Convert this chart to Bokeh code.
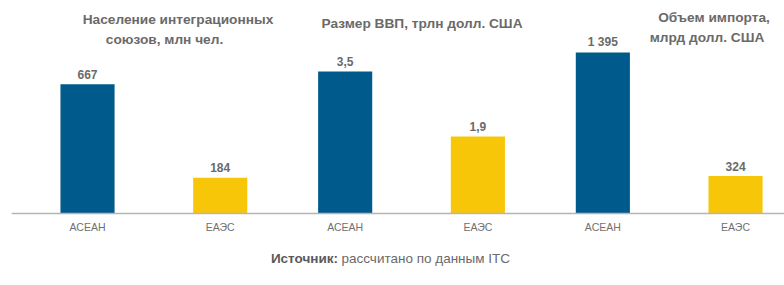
from bokeh.plotting import figure
from bokeh.models import ColumnDataSource, FactorRange, Range1d, Span
from bokeh.transform import dodge
from bokeh.core.properties import value
from bokeh.embed import file_html
from bokeh.resources import INLINE

# ---------------- data ----------------
panel_keys = ["Население", "ВВП", "Импорт"]
panel_titles = [
    ["Население интеграционных", "союзов, млн чел."],
    ["Размер ВВП, трлн долл. США"],
    ["Объем импорта,", "млрд долл. США"],
]
categories = ["АСЕАН", "ЕАЭС"]
asean_values = [667, 3.5, 1395]
eaeu_values = [184, 1.9, 324]
value_decimals = [0, 1, 0]
source_bold = "Источник:"
source_text = "рассчитано по данным ITC"

# ---------------- styling / layout ----------------
W, H = 784, 285
LEFT = 11
BASE_FROM_TOP = 213
FRAC_BELOW = (H - BASE_FROM_TOP) / BASE_FROM_TOP
range_tops = [1100, 5.25, 1845]
cat_dodge = [-0.205, 0.31]
bar_w = 0.21
colors = ["#005A8C", "#F8C608"]
FONT = value("Liberation Sans")
title_pos = [[(177.5, 19), (164, 39)], [(421.5, 23)], [(713.5, 16.5), (706.5, 37)]]


def fmt(v, d):
    s = f"{v:,.{d}f}"
    return s.replace(",", " ").replace(".", ",")


def px_x(x):
    # pixel column -> synthetic categorical coordinate
    return (x - LEFT) / (W - LEFT) * len(panel_keys)


p = figure(width=W, height=H, output_backend="svg", toolbar_location=None,
           x_range=FactorRange(factors=panel_keys, range_padding=0),
           y_range=Range1d(H, 0),
           x_axis_location=None, y_axis_location=None, title=None,
           min_border_left=LEFT, min_border_right=0, min_border_top=0, min_border_bottom=0)
p.outline_line_color = None
p.xgrid.visible = False
p.ygrid.visible = False
p.background_fill_color = "white"
p.border_fill_color = "white"
for i, top in enumerate(range_tops):
    p.extra_y_ranges[f"v{i}"] = Range1d(-top * FRAC_BELOW, top)

series = [asean_values, eaeu_values]
for i, key in enumerate(panel_keys):
    rn = f"v{i}"
    for j, cat in enumerate(categories):
        v = series[j][i]
        src = ColumnDataSource(dict(panel=[key], val=[v], lab=[fmt(v, value_decimals[i])], cat=[cat], zero=[0]))
        xs = dodge("panel", cat_dodge[j], range=p.x_range)
        p.vbar(x=xs, top="val", bottom=0, width=bar_w, source=src, y_range_name=rn,
               fill_color=colors[j], line_color=None)
        p.text(x=xs, y="val", text="lab", source=src, y_range_name=rn,
               text_align="center", text_baseline="middle", y_offset=-10,
               text_font=FONT, text_font_size="12px", text_font_style="bold",
               text_color="#6a6a6a")
        p.text(x=xs, y="zero", text="cat", source=src, y_range_name=rn,
               text_align="center", text_baseline="middle", y_offset=13.7,
               text_font=FONT, text_font_size="10.5px", text_color="#707070")

p.add_layout(Span(location=0, dimension="width", y_range_name="v0",
                  line_color="#b5b5b5", line_width=1.5))

# titles
tx, ty, tt = [], [], []
for i, lines in enumerate(panel_titles):
    for k, line in enumerate(lines):
        tx.append(px_x(title_pos[i][k][0]))
        ty.append(title_pos[i][k][1])
        tt.append(line)
p.text(x=tx, y=ty, text=tt, text_align="center",
       text_baseline="middle", text_font=FONT, text_font_size="13.7px",
       text_font_style="bold", text_color="#6a6a6a")

# source
p.text(x=[px_x(337.5)], y=[258], text=[source_bold], text_align="right",
       text_baseline="middle", text_font=FONT, text_font_size="13.5px",
       text_font_style="bold", text_color="#5a5a5a")
p.text(x=[px_x(341)], y=[258], text=[source_text], text_align="left",
       text_baseline="middle", text_font=FONT, text_font_size="13.5px",
       text_color="#6a6a6a")

open("out.html", "w").write(file_html(p, INLINE))
